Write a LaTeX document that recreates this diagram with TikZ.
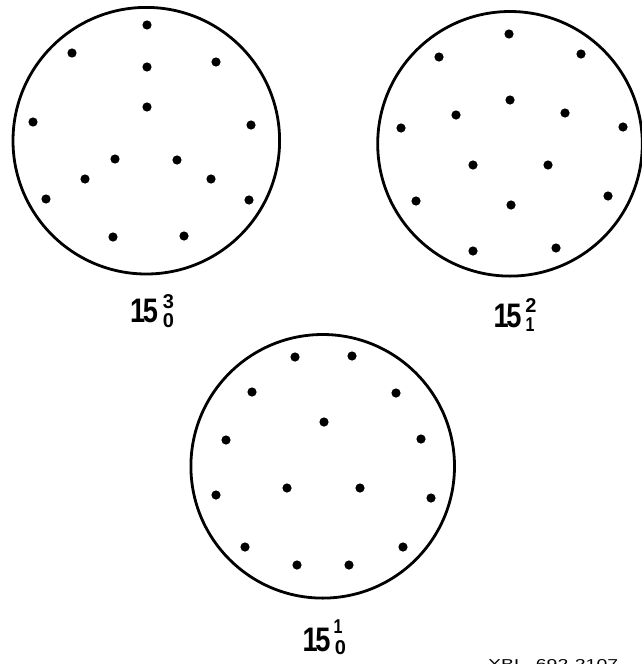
\documentclass[tikz,border=0pt]{standalone}
\usepackage{fontspec}
\setmainfont{Liberation Sans}
\begin{document}
\begin{tikzpicture}[x=1pt,y=-1pt,
  ring/.style={line width=2.8pt},
  dot/.style={fill=black},
  big/.style={inner sep=0pt,font=\bfseries\fontsize{34}{34}\selectfont},
  small/.style={inner sep=0pt,font=\bfseries\fontsize{20}{20}\selectfont}]
\useasboundingbox (0,0) rectangle (641,664);
\fill[white] (0,0) rectangle (641,664);
% circle 1
\draw[ring] (146.3,140.7) circle (133.3);
\foreach \x/\y in {147/25,72/53,147/67,216/62,147/107,33/122,251/125,115/159,177/160,85/179,211/179,46/199,249/200,113/237,184/236}
  \fill[dot] (\x,\y) circle (4.6);
% circle 2
\draw[ring] (510,143.8) circle (132.3);
\foreach \x/\y in {509/34,439/57,581/54,510/100,456/115,565/113,401/128,623/127,473/165,548/165,416/201,608/196,511/205,473/251,556/248}
  \fill[dot] (\x,\y) circle (4.6);
% circle 3
\draw[ring] (322.7,466.3) circle (131.8);
\foreach \x/\y in {295/357,352/356,252/392,396/393,324/422,226/440,421/439,287/488,360/488,216/495,431/498,245/547,403/547,297/565,349/565}
  \fill[dot] (\x,\y) circle (4.6);
% labels
\node[big] (l1) at (144,311) {\scalebox{0.8}[1]{1\kern-3pt 5}};
\node[small] (l1a) at (168.5,301.5) {3};
\node[small] (l1b) at (168.5,321) {0};
\node[big] (l2) at (507.5,316) {\scalebox{0.8}[1]{1\kern-3pt 5}};
\node[small] (l2a) at (531,306) {2};
\node[small] (l2b) at (530,325) {\scalebox{0.8}[1]{1}};
\node[big] (l3) at (316.5,639.5) {\scalebox{0.8}[1]{1\kern-3pt 5}};
\node[small] (l3a) at (338,627) {\scalebox{0.8}[1]{1}};
\node[small] (l3b) at (340.5,648) {0};
\node[inner sep=0pt,anchor=north west] (code) at (488,659.5) {\resizebox{130pt}{10pt}{XBL\ \ 692-2107}};
\end{tikzpicture}
\end{document}
